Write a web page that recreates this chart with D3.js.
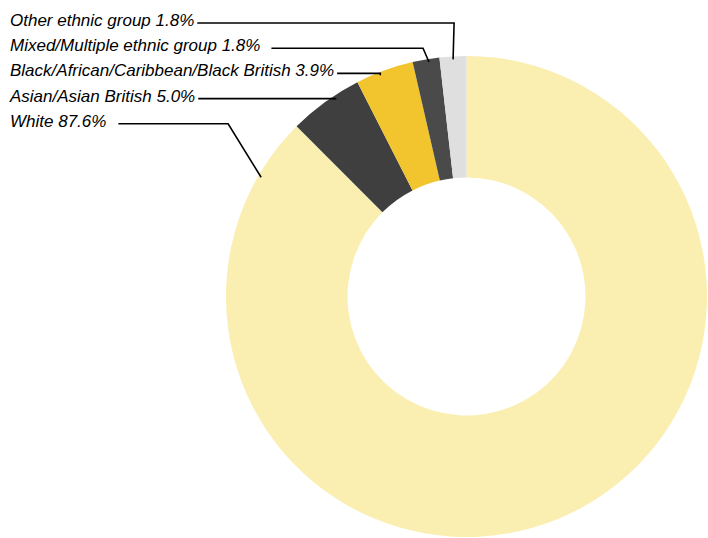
<!DOCTYPE html>
<html>
<head>
<meta charset="utf-8">
<script src="https://cdn.jsdelivr.net/npm/d3@7/dist/d3.min.js"></script>
<style>
  html, body { margin: 0; padding: 0; background: #fff; }
  svg { display: block; }
  .lbl { font-family: "Liberation Sans", Arial, Helvetica, sans-serif; font-style: italic; font-size: 17px; fill: #000; }
</style>
</head>
<body>
<svg id="chart" width="708" height="538"></svg>
<script>
// Ethnic group shares (%)
const groups = ["White", "Asian/Asian British", "Black/African/Caribbean/Black British", "Mixed/Multiple ethnic group", "Other ethnic group"];
const shares = [87.6, 5.0, 3.9, 1.8, 1.8];
const colors = ["#FAEEB0", "#3F3F3F", "#F2C52E", "#4A4A4A", "#DFDFDF"];

const width = 708, height = 538;
const cx = 466.5, cy = 296.5;
const outerR = 240.5, innerR = 119;

const svg = d3.select("#chart");
const g = svg.append("g").attr("transform", `translate(${cx},${cy})`);

const data = groups.map((name, i) => ({ name, value: shares[i], color: colors[i], index: i }));

const pie = d3.pie().value(d => d.value).sort(null);
const arcs = pie(data);

const arc = d3.arc().innerRadius(innerR).outerRadius(outerR);

g.selectAll("path.slice")
  .data(arcs)
  .join("path")
  .attr("class", "slice")
  .attr("d", arc)
  .attr("fill", d => d.data.color);

// Labels are stacked in the top-left corner, smallest slice first
const labelX = 10, labelTop = 26, labelStep = 25.2;
const labelOrder = [4, 3, 2, 1, 0];
// Per-label leader layout: gap after text, elbow shift, anchor angle shift (rad)
const leaderLayout = {
  0: { gap: 12, elbow: 33, angle: null },
  1: { gap: 3, elbow: 0, angle: 0.044 },
  2: { gap: 3, elbow: 0, angle: -0.023 },
  3: { gap: 11, elbow: 6, angle: 0.011 },
  4: { gap: 3, elbow: -1, angle: 0 }
};

const pointAt = (angle, r) => [cx + r * Math.sin(angle), cy - r * Math.cos(angle)];

labelOrder.forEach((idx, row) => {
  const a = arcs[idx];
  const y = labelTop + row * labelStep;
  const text = svg.append("text")
    .attr("class", "lbl")
    .attr("x", labelX)
    .attr("y", y)
    .text(`${a.data.name} ${a.data.value.toFixed(1)}%`);
  const tw = text.node().getComputedTextLength();
  const lay = leaderLayout[idx];
  const lineY = y - 3;
  const ang = lay.angle === null ? a.endAngle - 0.26 : (a.startAngle + a.endAngle) / 2 + lay.angle;
  const end = pointAt(ang, outerR - 3);
  const startX = labelX + tw + lay.gap;
  const elbowX = end[0] - lay.elbow;
  svg.append("path")
    .attr("d", d3.line()([[startX, lineY], [elbowX, lineY], end]))
    .attr("fill", "none")
    .attr("stroke", "#000")
    .attr("stroke-width", 1.6);
});
</script>
</body>
</html>
